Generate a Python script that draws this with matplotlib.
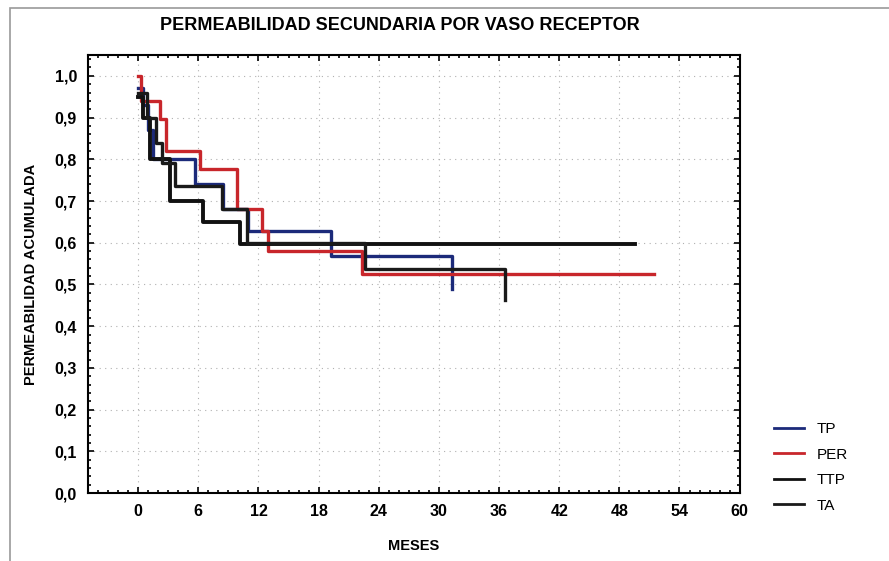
import numpy as np
import matplotlib.pyplot as plt
from matplotlib.ticker import MultipleLocator, FuncFormatter
from matplotlib.lines import Line2D
from matplotlib.patches import Rectangle

# Kaplan-Meier steps (months, cumulative patency)
tp_t = [0, 0.5, 1.0, 1.5, 5.7, 8.5, 11.0, 19.2, 31.3]
tp_s = [0.97, 0.93, 0.87, 0.80, 0.74, 0.68, 0.628, 0.568, 0.49]

per_t = [0, 0.3, 2.2, 2.8, 6.2, 9.9, 12.4, 13.0, 22.3, 51.5]
per_s = [1.0, 0.94, 0.897, 0.82, 0.777, 0.68, 0.628, 0.58, 0.525, 0.525]

ttp_t = [0, 0.5, 1.2, 3.2, 6.5, 10.2, 49.6]
ttp_s = [0.95, 0.90, 0.80, 0.70, 0.65, 0.597, 0.597]

ta_t = [0, 0.9, 1.8, 2.4, 3.7, 8.4, 10.9, 22.6, 36.6]
ta_s = [0.96, 0.90, 0.84, 0.79, 0.736, 0.68, 0.60, 0.537, 0.463]

labels = ["TP", "PER", "TTP", "TA"]
colors = ["#1c2a7a", "#c8262b", "#111111", "#1a1a1a"]

plt.rcParams['font.family'] = ['Liberation Sans', 'DejaVu Sans']

fig = plt.figure(figsize=(8.89, 5.61), dpi=100)
ax = fig.add_axes([0.099, 0.121, 0.733, 0.781])

series = [(tp_t, tp_s), (per_t, per_s), (ttp_t, ttp_s), (ta_t, ta_s)]
widths = [2.4, 2.4, 2.8, 2.4]
for (t, s), c, lw in zip(series, colors, widths):
    ax.step(t, s, where="post", color=c, lw=lw)

ax.set_xlim(-5, 60)
ax.set_ylim(0, 1.05)
ax.xaxis.set_major_locator(MultipleLocator(6))
ax.xaxis.set_minor_locator(MultipleLocator(1))
ax.yaxis.set_major_locator(MultipleLocator(0.1))
ax.yaxis.set_minor_locator(MultipleLocator(0.02))
ax.yaxis.set_major_formatter(FuncFormatter(lambda v, p: f"{v:.1f}".replace(".", ",")))
ax.tick_params(which="both", direction="in", top=True, right=True, width=1.2)
ax.tick_params(which="major", length=4, labelsize=11.5, pad=8)
ax.tick_params(which="minor", length=2.5)
for lab in ax.get_xticklabels() + ax.get_yticklabels():
    lab.set_fontweight("bold")
for sp in ax.spines.values():
    sp.set_linewidth(1.5)
ax.grid(True, which="major", linestyle=(0, (1, 4)), color="#b0b0b0", lw=0.8)

ax.set_xlabel("MESES", fontsize=10.5, fontweight="bold", labelpad=14)
ax.set_ylabel("PERMEABILIDAD ACUMULADA", fontsize=10.5, fontweight="bold", labelpad=12)
fig.text(0.45, 0.955, "PERMEABILIDAD SECUNDARIA POR VASO RECEPTOR",
         ha="center", va="center", fontsize=13, fontweight="bold")

handles = [Line2D([], [], color=c, lw=2) for c in colors]
fig.legend(handles, labels, loc="upper left", bbox_to_anchor=(0.855, 0.272),
           frameon=False, fontsize=11, handlelength=2.0, labelspacing=0.75)

# scan frame
fig.add_artist(Rectangle((0.011, -0.1), 1.2, 1.086, transform=fig.transFigure,
                         fill=False, ec="#9a9a9a", lw=1.2))

fig.savefig("out.png", dpi=100)
